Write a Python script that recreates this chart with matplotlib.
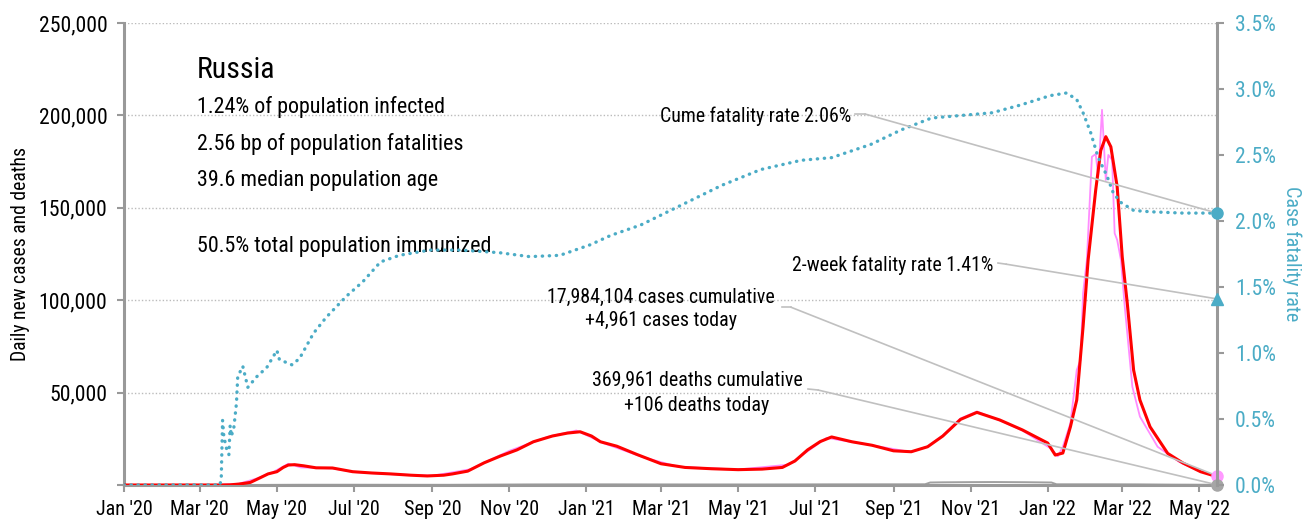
import pandas as pd
import matplotlib
matplotlib.use("Agg")
import matplotlib.pyplot as plt
import matplotlib.dates as mdates
from matplotlib.ticker import FuncFormatter, MultipleLocator

plt.rcParams['font.family'] = ['Roboto Condensed', 'DejaVu Sans']

# 7-day average of daily new cases
avg_dates = ["2020-01-01", "2020-03-15", "2020-03-25", "2020-04-01", "2020-04-10", "2020-04-18",
             "2020-04-24", "2020-05-01", "2020-05-06", "2020-05-10", "2020-05-15", "2020-05-22",
             "2020-06-01", "2020-06-14", "2020-06-30", "2020-07-15", "2020-07-30", "2020-08-15",
             "2020-08-28", "2020-09-10", "2020-09-17", "2020-09-29", "2020-10-12", "2020-10-25",
             "2020-11-07", "2020-11-20", "2020-12-05", "2020-12-17", "2020-12-27", "2021-01-05",
             "2021-01-12", "2021-01-25", "2021-02-10", "2021-03-01", "2021-03-20", "2021-04-10",
             "2021-05-01", "2021-05-20", "2021-06-05", "2021-06-15", "2021-06-25", "2021-07-05",
             "2021-07-14", "2021-07-30", "2021-08-15", "2021-09-01", "2021-09-15", "2021-09-28",
             "2021-10-10", "2021-10-24", "2021-11-06", "2021-11-24", "2021-12-12", "2022-01-01",
             "2022-01-07", "2022-01-13", "2022-01-19", "2022-01-24", "2022-01-29", "2022-02-02",
             "2022-02-08", "2022-02-12", "2022-02-16", "2022-02-20", "2022-02-25", "2022-03-01",
             "2022-03-05", "2022-03-10", "2022-03-15", "2022-03-23", "2022-04-06", "2022-04-18",
             "2022-05-02", "2022-05-15"]
avg_cases = [0, 0, 100, 500, 1400, 4000,
             6000, 7200, 9500, 10800, 11000, 10400,
             9300, 9200, 7200, 6500, 6000, 5300,
             4900, 5300, 6000, 7500, 12000, 15700,
             19000, 23400, 26500, 28100, 28800, 26500,
             23400, 21000, 16500, 11500, 9500, 8800,
             8300, 8600, 9500, 13000, 19000, 23500,
             26000, 23400, 21500, 18500, 18000, 20700,
             26500, 35500, 39300, 35200, 29800, 22700,
             16200, 17300, 31500, 46000, 85600, 121700,
             159600, 181000, 188500, 183000, 161400, 123500,
             98300, 62200, 46000, 31500, 17100, 11900,
             7200, 4500]

# reported daily new cases
daily_dates = ["2020-01-01", "2020-03-15", "2020-04-01", "2020-04-15", "2020-04-28", "2020-05-10",
               "2020-05-20", "2020-06-14", "2020-07-01", "2020-08-01", "2020-09-01", "2020-10-01",
               "2020-11-01", "2020-12-01", "2020-12-24", "2021-01-15", "2021-02-15", "2021-03-15",
               "2021-05-01", "2021-06-10", "2021-07-10", "2021-08-15", "2021-09-15", "2021-09-28",
               "2021-10-10", "2021-10-24", "2021-11-06", "2021-11-24", "2021-12-12", "2022-01-04",
               "2022-01-09", "2022-01-13", "2022-01-19",
               "2022-01-24", "2022-01-27", "2022-01-29", "2022-02-01", "2022-02-05", "2022-02-08",
               "2022-02-10", "2022-02-13", "2022-02-16", "2022-02-18", "2022-02-21", "2022-02-23",
               "2022-02-25", "2022-02-28", "2022-03-03", "2022-03-09", "2022-03-15", "2022-03-29",
               "2022-04-15", "2022-05-01", "2022-05-15"]
daily_cases = [0, 0, 700, 3500, 7000, 11500,
               9500, 9000, 7000, 5800, 5000, 8500,
               18500, 26000, 29500, 22500, 15000, 9800,
               8400, 11000, 25500, 21500, 17800, 20900,
               26800, 36000, 39800, 35000, 29500, 19500,
               15500, 20700, 33500,
               62200, 67600, 103700, 121700, 177600, 179100,
               166800, 203000, 165000, 178600, 175900, 136200,
               132600, 121700, 96500, 53200, 37000, 20700,
               12500, 7500, 4961]

# 7-day average of daily deaths
death_dates = ["2020-01-01", "2020-03-25", "2020-04-20", "2020-05-20", "2020-07-01", "2020-08-15",
               "2020-09-15", "2020-10-15", "2020-11-15", "2020-12-20", "2021-01-20", "2021-02-20",
               "2021-03-20", "2021-05-15", "2021-06-15", "2021-07-15", "2021-08-15", "2021-09-15",
               "2021-09-26", "2021-09-30", "2021-10-10", "2021-11-01", "2021-11-20", "2021-12-15",
               "2022-01-04", "2022-01-08", "2022-02-20", "2022-03-15", "2022-04-10", "2022-05-15"]
daily_deaths = [0, 0, 40, 120, 130, 100,
                100, 200, 300, 350, 350, 320,
                300, 290, 320, 360, 370, 380,
                400, 1350, 1450, 1550, 1600, 1500,
                1350, 380, 380, 330, 200, 106]

# cumulative case fatality rate, %
cfr_dates = ["2020-01-01", "2020-03-17", "2020-03-18", "2020-03-19", "2020-03-20", "2020-03-22",
             "2020-03-24", "2020-03-25", "2020-03-26", "2020-03-28", "2020-03-30", "2020-03-31",
             "2020-04-02", "2020-04-04", "2020-04-06", "2020-04-08", "2020-04-15", "2020-04-23",
             "2020-05-01", "2020-05-03", "2020-05-13", "2020-05-19", "2020-05-30", "2020-06-09",
             "2020-06-25", "2020-07-08", "2020-07-22", "2020-08-06", "2020-08-30", "2020-09-23",
             "2020-10-24", "2020-11-17", "2020-12-11", "2021-01-04", "2021-01-20", "2021-02-13",
             "2021-03-17", "2021-04-18", "2021-05-19", "2021-06-20", "2021-07-14", "2021-08-14",
             "2021-09-07", "2021-10-01", "2021-10-25", "2021-11-18", "2021-12-11", "2022-01-03",
             "2022-01-16", "2022-01-24", "2022-01-29", "2022-02-04", "2022-02-10", "2022-02-17",
             "2022-02-22", "2022-02-28", "2022-03-10", "2022-03-23", "2022-04-18", "2022-05-15"]
cfr_pct = [0.0, 0.0, 0.06, 0.49, 0.37, 0.28,
           0.23, 0.45, 0.37, 0.44, 0.62, 0.82,
           0.86, 0.90, 0.82, 0.74, 0.82, 0.89,
           1.02, 0.95, 0.91, 0.96, 1.15, 1.27,
           1.43, 1.54, 1.69, 1.74, 1.78, 1.78,
           1.76, 1.73, 1.74, 1.82, 1.89, 1.97,
           2.12, 2.27, 2.39, 2.46, 2.48, 2.58,
           2.69, 2.78, 2.80, 2.82, 2.88, 2.95,
           2.97, 2.92, 2.82, 2.67, 2.48, 2.34,
           2.21, 2.14, 2.08, 2.07, 2.06, 2.06]

last_date = "2022-05-15"
cume_cfr = 2.06
twoweek_cfr = 1.41
cases_today = 4961
deaths_today = 106

country = "Russia"
info_lines = ["1.24% of population infected",
              "2.56 bp of population fatalities",
              "39.6 median population age"]
immunized = "50.5% total population immunized"

CYAN = "#4bacc6"
GREY = "#999999"
LEAD = "#c0c0c0"

avg_dates = pd.to_datetime(avg_dates)
daily_dates = pd.to_datetime(daily_dates)
death_dates = pd.to_datetime(death_dates)
cfr_dates = pd.to_datetime(cfr_dates)
end = pd.Timestamp(last_date)

fig = plt.figure(figsize=(13.09, 5.22), dpi=100)
ax1 = fig.add_axes([124 / 1309, 1 - 485 / 522, 1093 / 1309, 462 / 522])
ax2 = ax1.twinx()

ax1.plot(death_dates, daily_deaths, color="#a0a0a0", lw=1.4, zorder=1)
ax1.plot(daily_dates, daily_cases, color="#ff8cff", lw=1.3, zorder=2)
ax1.plot(avg_dates, avg_cases, color="#ff0000", lw=2.2, zorder=3)
ax2.plot(cfr_dates, cfr_pct, color=CYAN, lw=2.4, linestyle=(0, (0.1, 2.0)),
         dash_capstyle="round", zorder=3)

# end-of-series markers
ax1.plot([end], [cases_today], "o", color="#ff99ff", ms=8, clip_on=False, zorder=6)
ax1.plot([end], [deaths_today], "o", color="#a6a6a6", ms=8, clip_on=False, zorder=6)
ax2.plot([end], [cume_cfr], "o", color=CYAN, ms=8, clip_on=False, zorder=6)
ax2.plot([end], [twoweek_cfr], "^", color=CYAN, ms=9, clip_on=False, zorder=6)

ax1.set_xlim(pd.Timestamp("2020-01-01"), end)
ax1.set_ylim(0, 250000)
ax2.set_ylim(0, 3.5)

ax1.yaxis.set_major_locator(MultipleLocator(50000))
ax1.yaxis.set_major_formatter(FuncFormatter(lambda v, p: "" if v == 0 else f"{int(v):,}"))
ax2.yaxis.set_major_locator(MultipleLocator(0.5))
ax2.yaxis.set_major_formatter(FuncFormatter(lambda v, p: f"{v:.1f}%"))
ax1.xaxis.set_major_locator(mdates.MonthLocator(bymonth=[1, 3, 5, 7, 9, 11]))
ax1.xaxis.set_major_formatter(mdates.DateFormatter("%b '%y"))

ax1.grid(axis="y", linestyle=(0, (1, 1.5)), color="#bbbbbb", lw=1)
ax1.set_axisbelow(True)

for ax in (ax1, ax2):
    ax.spines["top"].set_visible(False)
    for s in ax.spines.values():
        s.set_color(GREY)
        s.set_linewidth(2.2)
ax2.spines["left"].set_visible(False)
ax2.spines["bottom"].set_visible(False)
ax1.spines["right"].set_visible(False)

ax1.tick_params(axis="y", length=5, width=1.5, color=GREY, labelsize=15.7, pad=7)
ax1.tick_params(axis="x", length=5, width=1.5, color=GREY, labelsize=14.5, pad=6)
ax2.tick_params(axis="y", length=5, width=1.5, color=GREY, labelsize=15.7, pad=8,
                labelcolor=CYAN)

ax1.set_ylabel("Daily new cases and deaths", fontsize=14.1, labelpad=6)
ax2.set_ylabel("Case fatality rate", fontsize=14.5, color=CYAN, rotation=270, labelpad=18)

# country summary block
ax1.text(0.067, 0.898, country, transform=ax1.transAxes, fontsize=21.5, va="center")
for txt, fy in zip(info_lines, [0.818, 0.738, 0.660]):
    ax1.text(0.067, fy, txt, transform=ax1.transAxes, fontsize=15.8, va="center")
ax1.text(0.067, 0.517, immunized, transform=ax1.transAxes, fontsize=15.8, va="center")

# callouts with leader lines
ax2.text(0.6651, 0.7987, f"Cume fatality rate {cume_cfr:.2f}%", transform=ax2.transAxes,
         fontsize=14.3, ha="right", va="center")
ax2.plot([0.669, 0.678], [0.803, 0.803], color=LEAD, lw=1.2, transform=ax2.transAxes)
ax2.annotate("", xy=(end, cume_cfr), xytext=(0.678, 0.803), textcoords="axes fraction",
             arrowprops=dict(arrowstyle="-", color=LEAD, lw=1.2, shrinkA=0, shrinkB=0))

ax2.text(0.795, 0.476, f"2-week fatality rate {twoweek_cfr:.2f}%", transform=ax2.transAxes,
         fontsize=14.3, ha="right", va="center")
ax2.plot([0.7996, 0.807], [0.4805, 0.478], color=LEAD, lw=1.2, transform=ax2.transAxes)
ax2.annotate("", xy=(end, twoweek_cfr), xytext=(0.807, 0.478), textcoords="axes fraction",
             arrowprops=dict(arrowstyle="-", color=LEAD, lw=1.2, shrinkA=0, shrinkB=0))

ax2.text(0.4913, 0.4069, "17,984,104 cases cumulative", transform=ax2.transAxes,
         fontsize=14.3, ha="center", va="center")
ax2.text(0.4913, 0.355, f"+{cases_today:,} cases today", transform=ax2.transAxes,
         fontsize=14.3, ha="center", va="center")
ax2.plot([0.602, 0.610], [0.385, 0.385], color=LEAD, lw=1.2, transform=ax2.transAxes)
ax1.annotate("", xy=(end, cases_today), xytext=(0.610, 0.385), textcoords="axes fraction",
             arrowprops=dict(arrowstyle="-", color=LEAD, lw=1.2, shrinkA=0, shrinkB=0))

ax2.text(0.5243, 0.227, "369,961 deaths cumulative", transform=ax2.transAxes,
         fontsize=14.3, ha="center", va="center")
ax2.text(0.5243, 0.173, f"+{deaths_today} deaths today", transform=ax2.transAxes,
         fontsize=14.3, ha="center", va="center")
ax2.plot([0.6258, 0.635], [0.2078, 0.2056], color=LEAD, lw=1.2, transform=ax2.transAxes)
ax1.annotate("", xy=(end, deaths_today), xytext=(0.635, 0.2056), textcoords="axes fraction",
             arrowprops=dict(arrowstyle="-", color=LEAD, lw=1.2, shrinkA=0, shrinkB=0))

fig.savefig("out.png", dpi=100)
